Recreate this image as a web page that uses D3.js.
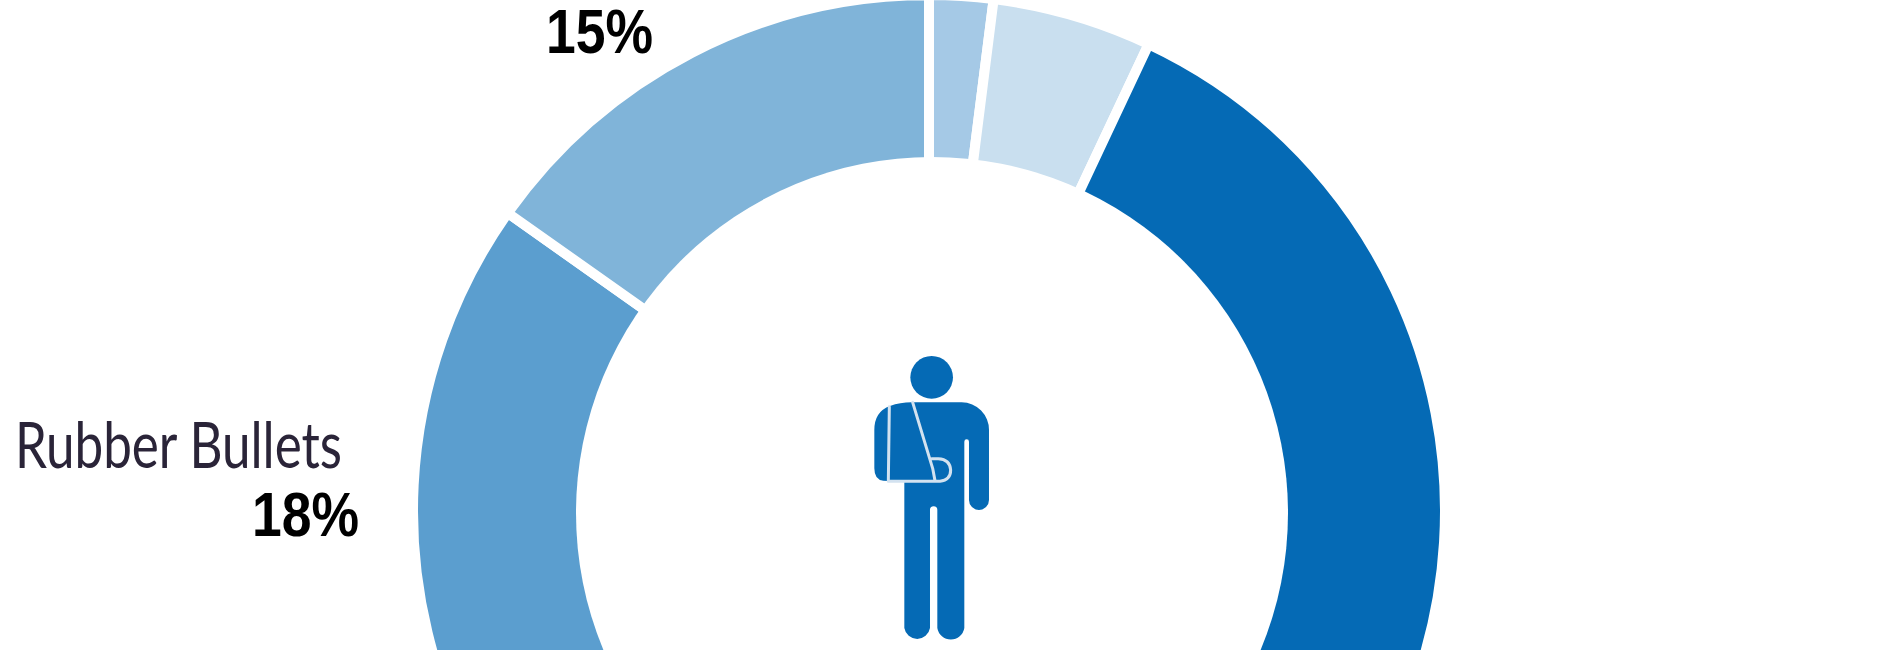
<!DOCTYPE html>
<html><head><meta charset="utf-8">
<script src="https://cdn.jsdelivr.net/npm/d3@7/dist/d3.min.js"></script>
<style>html,body{margin:0;padding:0;background:#fff;overflow:hidden}svg{display:block}</style>
</head><body><svg id="c" width="1900" height="650"></svg>
<script>
// Share of each ring segment, clockwise from 12 o'clock (names cropped out of the picture stay empty)
const categories = ["", "", "", "Rubber Bullets", ""];
const values = [2, 5, 59.8, 18, 15.2];
const colors = ["#a5c9e6", "#c9dfef", "#056ab5", "#5b9ecf", "#80b4d9"];
const labelCategory = ["Rubber Bullets"];
const labelValues = ["18%", "15%"];

const W = 1900, H = 650, cx = 929, cy = 511, R = 516, r = 340;
const svg = d3.select("#c");
const pie = d3.pie().sort(null).value(d => d)(values);
const arc = d3.arc().innerRadius(r).outerRadius(R);
svg.append("g").attr("transform", `translate(${cx},${cy})`)
  .selectAll("path").data(pie).join("path")
  .attr("d", arc).attr("fill", (d, i) => colors[i])
  .attr("stroke", "#fff").attr("stroke-width", 10);
// The hole of the ring sits slightly off the ring's own centre in the reference
svg.append("circle").attr("cx", 932).attr("cy", 513).attr("r", 356).attr("fill", "#fff");

// Category label
svg.append("text").text(labelCategory[0])
  .attr("x", 15).attr("y", 468)
  .attr("textLength", 327).attr("lengthAdjust", "spacingAndGlyphs")
  .attr("font-family", "Lato,'Open Sans',sans-serif")
  .attr("font-size", 64).attr("fill", "#2a2438");

// Percent labels
const pct = [{t: labelValues[0], x: 252, y: 536}, {t: labelValues[1], x: 546, y: 53}];
svg.selectAll("text.pct").data(pct).join("text").attr("class", "pct")
  .text(d => d.t).attr("x", d => d.x).attr("y", d => d.y)
  .attr("textLength", 107).attr("lengthAdjust", "spacingAndGlyphs")
  .attr("font-family", "'Liberation Sans','Open Sans',sans-serif")
  .attr("font-weight", 700).attr("font-size", 63).attr("fill", "#000");

// Person with arm in sling
const icon = svg.append("g").attr("transform", "translate(840,340) scale(0.3333)");
icon.append("circle").attr("cx", 275).attr("cy", 112).attr("r", 64).attr("fill", "#056ab5");
icon.append("path").attr("fill", "#056ab5").attr("d",
  "M103,270 Q103,215 150,198 Q180,187 215,187 L365,187 A82,82 0 0 1 447,270 L447,480 " +
  "A30,30 0 0 1 387,480 L387,305 A7,7 0 0 0 373,305 " +
  "L373,864 A41,41 0 0 1 292,864 L292,510 A11,11 0 0 0 270,510 " +
  "L270,864 A39,39 0 0 1 193,864 L193,425 L130,422 Q103,420 103,385 Z");
icon.append("path").attr("fill", "none").attr("stroke", "#d3e2f0").attr("stroke-width", 9)
  .attr("stroke-linecap", "round").attr("stroke-linejoin", "round").attr("d",
  "M218,187 L278,385 L285,422 M148,200 L145,424 L300,424 Q332,420 332,390 Q330,358 295,356 L275,356");
</script></body></html>
